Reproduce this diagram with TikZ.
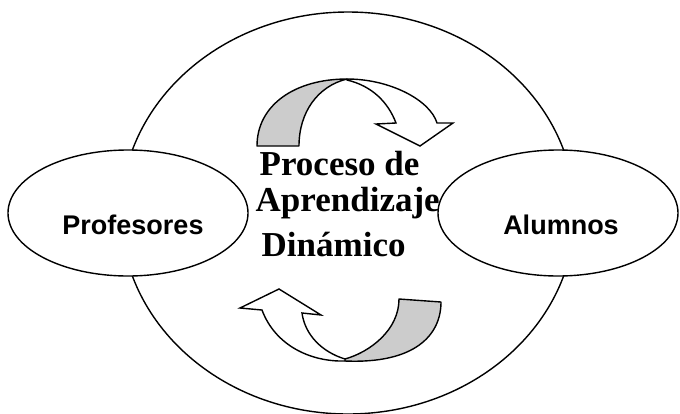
\documentclass[tikz,border=0pt]{standalone}
\usepackage{fontspec}
\setmainfont{Liberation Serif}
\setsansfont{Liberation Sans}
\usetikzlibrary{shapes.geometric}
\begin{document}
\begin{tikzpicture}[x=1pt,y=-1pt, line width=1.4pt,
  oval/.style={ellipse, draw=black, fill=white, inner sep=0pt},
  sidelbl/.style={font=\sffamily\bfseries\fontsize{27}{27}\selectfont, anchor=base, inner sep=0pt},
  midlbl/.style={font=\rmfamily\bfseries\fontsize{35}{35}\selectfont, anchor=base west, inner sep=0pt},
  backpart/.style={draw=black, fill=black!20, line join=round},
  frontpart/.style={draw=black, fill=white, line join=miter}]
\useasboundingbox (0,0) rectangle (680,413);
\node[oval, minimum width=454pt, minimum height=402pt] (proc) at (348,213) {};
\node[oval, minimum width=240pt, minimum height=126pt] (prof) at (128,213) {};
\node[oval, minimum width=240pt, minimum height=126pt] (alum) at (558,213) {};
% top curved arrow
\draw[backpart] (257,146) .. controls (257,105) and (295,79) .. (347,79)
  .. controls (318,86) and (299,112) .. (299,146) -- cycle;
\draw[frontpart] (347,79) .. controls (390,79) and (430,100) .. (437,123)
  -- (453,123) -- (420,146) -- (376,124) -- (396,123)
  .. controls (388,102) and (372,86) .. (347,80) -- cycle;
% bottom curved arrow
\draw[backpart] (441,302) .. controls (441,335) and (415,364) .. (345,361)
  -- (345,359) .. controls (370,352) and (399,330) .. (399,299) -- cycle;
\draw[frontpart] (262,310) .. controls (275,345) and (310,362) .. (345,361)
  -- (345,359) .. controls (322,352) and (305,335) .. (302,313)
  -- (321,315) -- (279,289) -- (240,308) -- cycle;
% labels
\node[sidelbl] (proflbl) at (133,234) {Profesores};
\node[sidelbl] (alumlbl) at (561,234) {Alumnos};
\node[midlbl] (l1) at (259,175) {Proceso de};
\node[midlbl] (l2) at (255,211) {Aprendizaje};
\node[midlbl] (l3) at (261,256) {Dinámico};
\end{tikzpicture}
\end{document}
